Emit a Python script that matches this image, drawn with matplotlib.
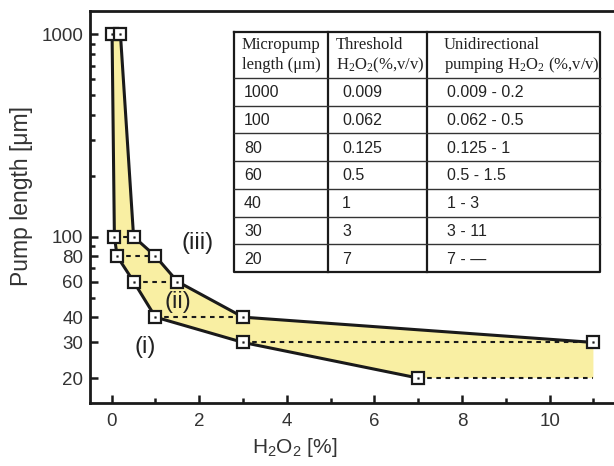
import numpy as np
import matplotlib
matplotlib.use('Agg')
import matplotlib.pyplot as plt
from matplotlib.ticker import FixedLocator, NullFormatter, FixedFormatter

# micropump lengths (um) and the H2O2 range (%, v/v) for unidirectional pumping
lengths = [1000, 100, 80, 60, 40, 30, 20]
threshold = [0.009, 0.062, 0.125, 0.5, 1, 3, 7]
upper = [0.2, 0.5, 1, 1.5, 3, 11, None]   # None -> no upper limit found

region_labels = ['(i)', '(ii)', '(iii)']
region_pos = [(0.76, 28.4), (1.51, 47.3), (1.95, 92.5)]

y_ticks = [20, 30, 40, 60, 80, 100, 1000]
x_ticks = [0, 2, 4, 6, 8, 10]

fill_col = '#F9EFA3'
ink = '#1a1a1a'

plt.rcParams['font.family'] = ['Liberation Sans', 'DejaVu Sans']

W, H = 614, 466
fig = plt.figure(figsize=(W/100, H/100), dpi=100)
ax = fig.add_axes([90/W, 63/H, (W-90)/W, (403-11)/H])

# open end of the range is drawn out to the largest measured upper limit
open_end = max(u for u in upper if u is not None)
upper_fill = [u if u is not None else open_end for u in upper]

poly_x = list(threshold) + upper_fill[::-1]
poly_y = list(lengths) + lengths[::-1]
ax.fill(poly_x, poly_y, color=fill_col, lw=0, zorder=1)

for t, u, L in zip(threshold, upper_fill, lengths):
  ax.plot([t, u], [L, L], ls=(0, (2.2, 2.2)), color=ink, lw=1.5, zorder=2)

ax.plot(threshold, lengths, color=ink, lw=2.2, zorder=3)
ux = [u for u in upper if u is not None]
uy = [L for u, L in zip(upper, lengths) if u is not None]
ax.plot(ux, uy, color=ink, lw=2.2, zorder=3)

mx = list(threshold) + ux
my = list(lengths) + uy
ax.plot(mx, my, ls='none', marker='s', ms=8, mfc='white', mec=ink, mew=1.6, zorder=4)
ax.plot(mx, my, ls='none', marker='s', ms=1.2, mfc=ink, mec=ink, mew=0.3, zorder=5)

for lab, (x, y) in zip(region_labels, region_pos):
  ax.text(x, y, lab, fontsize=17, ha='center', va='center', color='#222', zorder=6)

ax.set_yscale('log')
ax.set_xlim(-0.495, 11.47)
ax.set_ylim(15.06, 1303)

ax.yaxis.set_major_locator(FixedLocator(y_ticks))
ax.yaxis.set_major_formatter(FixedFormatter([str(v) for v in y_ticks]))
minor_y = [v for d in (10, 100) for v in np.arange(2, 10) * d if v not in y_ticks and v >= 20]
ax.yaxis.set_minor_locator(FixedLocator(minor_y))
ax.yaxis.set_minor_formatter(NullFormatter())
ax.xaxis.set_major_locator(FixedLocator(x_ticks))
ax.xaxis.set_minor_locator(FixedLocator([1, 3, 5, 7, 9, 11]))

ax.tick_params(which='both', direction='in', colors=ink, width=1.8, labelsize=13.5, labelcolor='#333')
ax.tick_params(which='major', length=6, pad=7)
ax.tick_params(which='minor', length=3.5)
ax.tick_params(axis='y', pad=5)

for s in ['left', 'bottom', 'top']:
  ax.spines[s].set_linewidth(2)
  ax.spines[s].set_color(ink)
ax.spines['right'].set_visible(False)

ax.set_xlabel(r'$\mathregular{H_2O_2}$ [%]', fontsize=15, color='#333')
ax.xaxis.set_label_coords((295-90)/(W-90), (403-436)/392)
ax.set_ylabel('Pump length [μm]', fontsize=16.5, color='#333')
ax.yaxis.set_label_coords((33-90)/(W-90), (403-196)/392)

# table, laid out in pixel units of its own box
tx0, tx1, ty0, ty1 = 234, 600, 32, 272
tab = fig.add_axes([tx0/W, (H-ty1)/H, (tx1-tx0)/W, (ty1-ty0)/H])
tab.set_xlim(0, tx1-tx0)
tab.set_ylim(ty1-ty0, 0)
tab.axis('off')
tab.patch.set_alpha(0)

col_x = [0, 94, 193, tx1-tx0]
head_h = 46
row_h = (ty1-ty0-head_h) / len(lengths)
tw, th = tx1-tx0, ty1-ty0

tab.plot([0, tw, tw, 0, 0], [0, 0, th, th, 0], color=ink, lw=1.6, clip_on=False)
for cx in col_x[1:-1]:
  tab.plot([cx, cx], [0, th], color=ink, lw=1.6, clip_on=False)
for i in range(len(lengths)):
  yy = head_h + i*row_h
  tab.plot([0, tw], [yy, yy], color='#333', lw=1.0, clip_on=False)

serif = ['Liberation Serif', 'DejaVu Serif']
header = [('Micropump', 'length (μm)'),
          ('Threshold', r'$\mathregular{H_2O_2}$(%,v/v)'),
          ('Unidirectional', r'pumping $\mathregular{H_2O_2}$ (%,v/v)')]
pads = [8, 8, 17]
for (l1, l2), cx, p in zip(header, col_x, pads):
  tab.text(cx+p, 13, l1, family=serif, fontsize=12, va='center', color='#222')
  tab.text(cx+p, 33, l2, family=serif, fontsize=12, va='center', color='#222')

body_pads = [10, 14, 20]
for i, (L, t, u) in enumerate(zip(lengths, threshold, upper)):
  yc = head_h + (i+0.5)*row_h + 1
  rng = f'{t:g} - {u:g}' if u is not None else f'{t:g} - \u2014'
  for txt, cx, p in zip([str(L), f'{t:g}', rng], col_x, body_pads):
    tab.text(cx+p, yc, txt, fontsize=11.5, va='center', color='#222')

fig.savefig('out.png', dpi=100)
